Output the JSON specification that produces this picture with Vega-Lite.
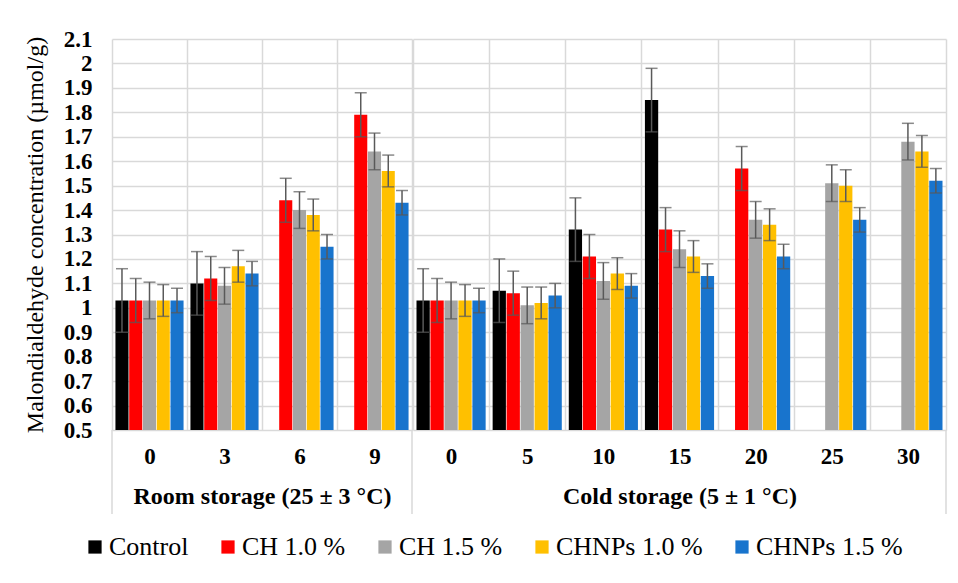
{
  "$schema": "https://vega.github.io/schema/vega-lite/v6.json",
  "padding": {"left": 23, "top": 28, "right": 2, "bottom": 5},
  "background": "white",
  "config": {
    "view": {"stroke": null},
    "font": "Liberation Serif",
    "axis": {"labelFont": "Liberation Serif", "titleFont": "Liberation Serif", "labelBound": false},
    "legend": {"labelFont": "Liberation Serif", "titleFont": "Liberation Serif"},
    "concat": {"spacing": 0}
  },
  "datasets": {
    "room": [
      {"day": "0", "s": "Control", "v": 1.03, "lo": 0.90, "hi": 1.16},
      {"day": "0", "s": "CH 1.0 %", "v": 1.03, "lo": 0.94, "hi": 1.12},
      {"day": "0", "s": "CH 1.5 %", "v": 1.03, "lo": 0.955, "hi": 1.105},
      {"day": "0", "s": "CHNPs 1.0 %", "v": 1.03, "lo": 0.965, "hi": 1.095},
      {"day": "0", "s": "CHNPs 1.5 %", "v": 1.03, "lo": 0.98, "hi": 1.08},
      {"day": "3", "s": "Control", "v": 1.10, "lo": 0.97, "hi": 1.23},
      {"day": "3", "s": "CH 1.0 %", "v": 1.12, "lo": 1.03, "hi": 1.21},
      {"day": "3", "s": "CH 1.5 %", "v": 1.09, "lo": 1.015, "hi": 1.165},
      {"day": "3", "s": "CHNPs 1.0 %", "v": 1.17, "lo": 1.105, "hi": 1.235},
      {"day": "3", "s": "CHNPs 1.5 %", "v": 1.14, "lo": 1.09, "hi": 1.19},
      {"day": "6", "s": "CH 1.0 %", "v": 1.44, "lo": 1.35, "hi": 1.53},
      {"day": "6", "s": "CH 1.5 %", "v": 1.40, "lo": 1.325, "hi": 1.475},
      {"day": "6", "s": "CHNPs 1.0 %", "v": 1.38, "lo": 1.315, "hi": 1.445},
      {"day": "6", "s": "CHNPs 1.5 %", "v": 1.25, "lo": 1.20, "hi": 1.30},
      {"day": "9", "s": "CH 1.0 %", "v": 1.79, "lo": 1.70, "hi": 1.88},
      {"day": "9", "s": "CH 1.5 %", "v": 1.64, "lo": 1.565, "hi": 1.715},
      {"day": "9", "s": "CHNPs 1.0 %", "v": 1.56, "lo": 1.495, "hi": 1.625},
      {"day": "9", "s": "CHNPs 1.5 %", "v": 1.43, "lo": 1.38, "hi": 1.48}
    ],
    "cold": [
      {"day": "0", "s": "Control", "v": 1.03, "lo": 0.90, "hi": 1.16},
      {"day": "0", "s": "CH 1.0 %", "v": 1.03, "lo": 0.94, "hi": 1.12},
      {"day": "0", "s": "CH 1.5 %", "v": 1.03, "lo": 0.955, "hi": 1.105},
      {"day": "0", "s": "CHNPs 1.0 %", "v": 1.03, "lo": 0.965, "hi": 1.095},
      {"day": "0", "s": "CHNPs 1.5 %", "v": 1.03, "lo": 0.98, "hi": 1.08},
      {"day": "5", "s": "Control", "v": 1.07, "lo": 0.94, "hi": 1.20},
      {"day": "5", "s": "CH 1.0 %", "v": 1.06, "lo": 0.97, "hi": 1.15},
      {"day": "5", "s": "CH 1.5 %", "v": 1.01, "lo": 0.935, "hi": 1.085},
      {"day": "5", "s": "CHNPs 1.0 %", "v": 1.02, "lo": 0.955, "hi": 1.085},
      {"day": "5", "s": "CHNPs 1.5 %", "v": 1.05, "lo": 1.00, "hi": 1.10},
      {"day": "10", "s": "Control", "v": 1.32, "lo": 1.19, "hi": 1.45},
      {"day": "10", "s": "CH 1.0 %", "v": 1.21, "lo": 1.12, "hi": 1.30},
      {"day": "10", "s": "CH 1.5 %", "v": 1.11, "lo": 1.035, "hi": 1.185},
      {"day": "10", "s": "CHNPs 1.0 %", "v": 1.14, "lo": 1.075, "hi": 1.205},
      {"day": "10", "s": "CHNPs 1.5 %", "v": 1.09, "lo": 1.04, "hi": 1.14},
      {"day": "15", "s": "Control", "v": 1.85, "lo": 1.72, "hi": 1.98},
      {"day": "15", "s": "CH 1.0 %", "v": 1.32, "lo": 1.23, "hi": 1.41},
      {"day": "15", "s": "CH 1.5 %", "v": 1.24, "lo": 1.165, "hi": 1.315},
      {"day": "15", "s": "CHNPs 1.0 %", "v": 1.21, "lo": 1.145, "hi": 1.275},
      {"day": "15", "s": "CHNPs 1.5 %", "v": 1.13, "lo": 1.08, "hi": 1.18},
      {"day": "20", "s": "CH 1.0 %", "v": 1.57, "lo": 1.48, "hi": 1.66},
      {"day": "20", "s": "CH 1.5 %", "v": 1.36, "lo": 1.285, "hi": 1.435},
      {"day": "20", "s": "CHNPs 1.0 %", "v": 1.34, "lo": 1.275, "hi": 1.405},
      {"day": "20", "s": "CHNPs 1.5 %", "v": 1.21, "lo": 1.16, "hi": 1.26},
      {"day": "25", "s": "CH 1.5 %", "v": 1.51, "lo": 1.435, "hi": 1.585},
      {"day": "25", "s": "CHNPs 1.0 %", "v": 1.50, "lo": 1.435, "hi": 1.565},
      {"day": "25", "s": "CHNPs 1.5 %", "v": 1.36, "lo": 1.31, "hi": 1.41},
      {"day": "30", "s": "CH 1.5 %", "v": 1.68, "lo": 1.605, "hi": 1.755},
      {"day": "30", "s": "CHNPs 1.0 %", "v": 1.64, "lo": 1.575, "hi": 1.705},
      {"day": "30", "s": "CHNPs 1.5 %", "v": 1.52, "lo": 1.47, "hi": 1.57}
    ]
  },
  "hconcat": [
    {
      "width": 300,
      "height": 391,
      "layer": [
        {
          "data": {"name": "room"},
          "mark": {"type": "bar"},
          "encoding": {
            "x": {"field": "day", "type": "nominal",
              "scale": {"domain": ["0", "3", "6", "9"], "paddingInner": 0, "paddingOuter": 0},
              "axis": {"title": "Room storage (25 ± 3 °C)", "labelAngle": 0, "labelFont": "Liberation Serif", "labelFontSize": 23, "labelFontWeight": "bold", "labelColor": "#000000", "labelPadding": 15, "ticks": false, "domain": false, "grid": true, "tickBand": "extent", "gridColor": "#d9d9d9", "gridWidth": 1.5, "titleFont": "Liberation Serif", "titleFontSize": 24, "titleFontWeight": "bold", "titleColor": "#000000", "titlePadding": 16}},
            "xOffset": {"field": "s", "type": "nominal",
              "scale": {"domain": ["Control", "CH 1.0 %", "CH 1.5 %", "CHNPs 1.0 %", "CHNPs 1.5 %"], "paddingInner": 0.05, "paddingOuter": 0.25}},
            "y": {"field": "v", "type": "quantitative",
              "scale": {"domain": [0.5, 2.1], "nice": false, "zero": false},
              "axis": {"title": "Malondialdehyde concentration (µmol/g)", "titleFont": "Liberation Serif", "titleFontSize": 24, "titleFontWeight": "normal", "titleColor": "#000000", "titlePadding": 16,
                "values": [0.5, 0.6, 0.7, 0.8, 0.9, 1, 1.1, 1.2, 1.3, 1.4, 1.5, 1.6, 1.7, 1.8, 1.9, 2, 2.1], "tickCount": 30, "format": ".1~f", "labelOverlap": false,
                "labelFont": "Liberation Serif", "labelFontSize": 23, "labelFontWeight": "bold", "labelColor": "#000000", "labelPadding": 20, "ticks": false, "domain": false, "grid": true, "gridColor": "#d9d9d9", "gridWidth": 1.5}},
            "y2": {"datum": 0.5},
            "color": {"field": "s", "type": "nominal",
              "scale": {"domain": ["Control", "CH 1.0 %", "CH 1.5 %", "CHNPs 1.0 %", "CHNPs 1.5 %"], "range": ["#000000", "#FF0000", "#A5A5A5", "#FFC000", "#1874CD"]},
              "legend": {"title": null, "orient": "none", "legendX": -30, "legendY": 495, "direction": "horizontal", "symbolType": "square", "symbolSize": 175, "symbolStrokeWidth": 0, "labelFont": "Liberation Serif", "labelFontSize": 26, "labelColor": "#000000", "columnPadding": 26, "labelOffset": 1}}
          }
        },
        {
          "data": {"name": "room"},
          "mark": {"type": "rule", "color": "#595959", "strokeWidth": 1.5},
          "encoding": {
            "x": {"field": "day", "type": "nominal"},
            "xOffset": {"field": "s", "type": "nominal"},
            "y": {"field": "lo", "type": "quantitative"},
            "y2": {"field": "hi"}
          }
        },
        {
          "data": {"name": "room"},
          "mark": {"type": "tick", "color": "#595959", "thickness": 1.5, "size": 12, "orient": "horizontal"},
          "encoding": {
            "x": {"field": "day", "type": "nominal"},
            "xOffset": {"field": "s", "type": "nominal"},
            "y": {"field": "lo", "type": "quantitative"}
          }
        },
        {
          "data": {"name": "room"},
          "mark": {"type": "tick", "color": "#595959", "thickness": 1.5, "size": 12, "orient": "horizontal"},
          "encoding": {
            "x": {"field": "day", "type": "nominal"},
            "xOffset": {"field": "s", "type": "nominal"},
            "y": {"field": "hi", "type": "quantitative"}
          }
        },
        {
          "data": {"values": [{"day": "0"}]},
          "mark": {"type": "rule", "color": "#d9d9d9", "strokeWidth": 1.5},
          "encoding": {
            "x": {"field": "day", "type": "nominal", "bandPosition": 0},
            "y": {"datum": 0.5},
            "y2": {"datum": 0.156}
          }
        },
        {
          "data": {"values": [{"day": "9"}]},
          "mark": {"type": "rule", "color": "#d9d9d9", "strokeWidth": 1.5},
          "encoding": {
            "x": {"field": "day", "type": "nominal", "bandPosition": 1},
            "y": {"datum": 0.5},
            "y2": {"datum": 0.156}
          }
        }
      ]
    },
    {
      "width": 533,
      "height": 391,
      "layer": [
        {
          "data": {"name": "cold"},
          "mark": {"type": "bar"},
          "encoding": {
            "x": {"field": "day", "type": "nominal",
              "scale": {"domain": ["0", "5", "10", "15", "20", "25", "30"], "paddingInner": 0, "paddingOuter": 0},
              "axis": {"title": "Cold storage (5 ± 1 °C)", "labelAngle": 0, "labelFont": "Liberation Serif", "labelFontSize": 23, "labelFontWeight": "bold", "labelColor": "#000000", "labelPadding": 15, "ticks": false, "domain": false, "grid": true, "tickBand": "extent", "gridColor": "#d9d9d9", "gridWidth": 1.5, "titleFont": "Liberation Serif", "titleFontSize": 24, "titleFontWeight": "bold", "titleColor": "#000000", "titlePadding": 16}},
            "xOffset": {"field": "s", "type": "nominal",
              "scale": {"domain": ["Control", "CH 1.0 %", "CH 1.5 %", "CHNPs 1.0 %", "CHNPs 1.5 %"], "paddingInner": 0.05, "paddingOuter": 0.25}},
            "y": {"field": "v", "type": "quantitative",
              "scale": {"domain": [0.5, 2.1], "nice": false, "zero": false},
              "axis": {"title": null, "labels": false, "ticks": false, "domain": false, "grid": true, "gridColor": "#d9d9d9", "gridWidth": 1.5, "tickCount": 30,
                "values": [0.5, 0.6, 0.7, 0.8, 0.9, 1, 1.1, 1.2, 1.3, 1.4, 1.5, 1.6, 1.7, 1.8, 1.9, 2, 2.1]}},
            "y2": {"datum": 0.5},
            "color": {"field": "s", "type": "nominal"}
          }
        },
        {
          "data": {"name": "cold"},
          "mark": {"type": "rule", "color": "#595959", "strokeWidth": 1.5},
          "encoding": {
            "x": {"field": "day", "type": "nominal"},
            "xOffset": {"field": "s", "type": "nominal"},
            "y": {"field": "lo", "type": "quantitative"},
            "y2": {"field": "hi"}
          }
        },
        {
          "data": {"name": "cold"},
          "mark": {"type": "tick", "color": "#595959", "thickness": 1.5, "size": 12, "orient": "horizontal"},
          "encoding": {
            "x": {"field": "day", "type": "nominal"},
            "xOffset": {"field": "s", "type": "nominal"},
            "y": {"field": "lo", "type": "quantitative"}
          }
        },
        {
          "data": {"name": "cold"},
          "mark": {"type": "tick", "color": "#595959", "thickness": 1.5, "size": 12, "orient": "horizontal"},
          "encoding": {
            "x": {"field": "day", "type": "nominal"},
            "xOffset": {"field": "s", "type": "nominal"},
            "y": {"field": "hi", "type": "quantitative"}
          }
        },
        {
          "data": {"values": [{"day": "30"}]},
          "mark": {"type": "rule", "color": "#d9d9d9", "strokeWidth": 1.5},
          "encoding": {
            "x": {"field": "day", "type": "nominal", "bandPosition": 1},
            "y": {"datum": 0.5},
            "y2": {"datum": 0.156}
          }
        }
      ]
    }
  ],
  "resolve": {"scale": {"y": "shared", "color": "shared", "x": "independent", "xOffset": "independent"}}
}
